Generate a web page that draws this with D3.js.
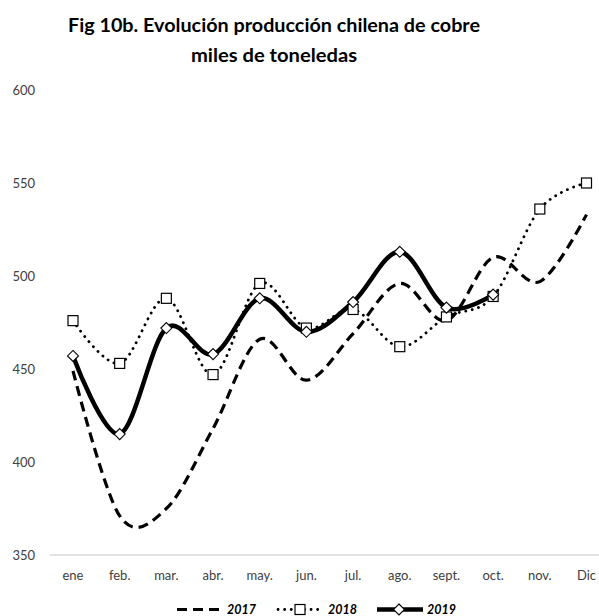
<!DOCTYPE html>
<html><head><meta charset="utf-8">
<script src="https://cdn.jsdelivr.net/npm/d3@7"></script>
<style>body{margin:0;background:#fff}svg{display:block}</style>
</head><body>
<script>
const months = ["ene","feb.","mar.","abr.","may.","jun.","jul.","ago.","sept.","oct.","nov.","Dic"];
const s2017 = [449, 371, 375, 418, 466, 444, 469, 496, 476, 510, 497, 533];
const s2018 = [476, 453, 488, 447, 496, 472, 482, 462, 478, 489, 536, 550];
const s2019 = [457, 415, 472, 458, 488, 470, 486, 513, 483, 490];
const yTicks = [350, 400, 450, 500, 550, 600];
const titleLines = ["Fig 10b. Evolución producción chilena de cobre", "miles de toneledas"];
const seriesNames = ["2017", "2018", "2019"];

const W = 599, H = 616;
const svg = d3.select("body").append("svg").attr("width", W).attr("height", H);
const x = d3.scalePoint().domain(months).range([73, 586.5]);
const y = d3.scaleLinear().domain([350, 600]).range([555, 90]);
const font = "Lato, 'Open Sans', sans-serif";

// title
svg.selectAll("text.title").data(titleLines).join("text")
  .attr("x", 274).attr("y", (d, i) => 32 + i * 30)
  .attr("text-anchor", "middle").attr("font-family", font).attr("font-weight", "bold")
  .attr("font-size", 19.5).attr("fill", "#000")
  .attr("textLength", (d, i) => i === 0 ? 412 : 166).attr("lengthAdjust", "spacingAndGlyphs")
  .text(d => d);

// baseline axis
svg.append("line").attr("x1", 50).attr("x2", 599).attr("y1", y(350)).attr("y2", y(350))
  .attr("stroke", "#d9d9d9").attr("stroke-width", 1.3);

// y labels
svg.selectAll("text.yl").data(yTicks).join("text")
  .attr("x", 35).attr("y", d => y(d) + 5).attr("text-anchor", "end")
  .attr("font-family", font).attr("font-size", 13).attr("fill", "#404040").text(d => d);

// x labels
svg.selectAll("text.xl").data(months).join("text")
  .attr("x", d => x(d)).attr("y", 580).attr("text-anchor", "middle")
  .attr("font-family", font).attr("font-size", 13).attr("fill", "#404040").text(d => d);

const curve = d3.curveCardinal.tension(0);
const line = d3.line().x((d, i) => x(months[i])).y(d => y(d)).curve(curve);

// 2017 dashed
svg.append("path").attr("d", line(s2017)).attr("fill", "none").attr("stroke", "#000")
  .attr("stroke-width", 3.2).attr("stroke-dasharray", "10,6");
// 2018 dotted
svg.append("path").attr("d", line(s2018)).attr("fill", "none").attr("stroke", "#000")
  .attr("stroke-width", 2.8).attr("stroke-linecap", "round").attr("stroke-dasharray", "0.1,6.5");
// 2019 solid
svg.append("path").attr("d", line(s2019)).attr("fill", "none").attr("stroke", "#000")
  .attr("stroke-width", 4.5);

// markers 2018 squares
svg.selectAll("rect.m18").data(s2018).join("rect")
  .attr("x", (d, i) => x(months[i]) - 5).attr("y", d => y(d) - 5)
  .attr("width", 10).attr("height", 10).attr("fill", "#fff").attr("stroke", "#000").attr("stroke-width", 1.2);
// markers 2019 diamonds
const diamond = (cx, cy, r) => `M${cx},${cy - r}L${cx + r},${cy}L${cx},${cy + r}L${cx - r},${cy}Z`;
svg.selectAll("path.m19").data(s2019).join("path")
  .attr("d", (d, i) => diamond(x(months[i]), y(d), 5.5))
  .attr("fill", "#fff").attr("stroke", "#000").attr("stroke-width", 1.1);

// legend
const ly = 609.5;
const lg = svg.append("g");
lg.append("line").attr("x1", 177).attr("x2", 222).attr("y1", ly).attr("y2", ly)
  .attr("stroke", "#000").attr("stroke-width", 3.2).attr("stroke-dasharray", "10,6");
lg.append("line").attr("x1", 278).attr("x2", 322).attr("y1", ly).attr("y2", ly)
  .attr("stroke", "#000").attr("stroke-width", 2.8).attr("stroke-linecap", "round").attr("stroke-dasharray", "0.1,6.5");
lg.append("rect").attr("x", 295).attr("y", ly - 5).attr("width", 10).attr("height", 10)
  .attr("fill", "#fff").attr("stroke", "#000").attr("stroke-width", 1.2);
lg.append("line").attr("x1", 377).attr("x2", 423).attr("y1", ly).attr("y2", ly)
  .attr("stroke", "#000").attr("stroke-width", 4.5);
lg.append("path").attr("d", diamond(399, ly, 5.5)).attr("fill", "#fff").attr("stroke", "#000").attr("stroke-width", 1.1);
const lx = [227, 328, 427];
lg.selectAll("text").data(seriesNames).join("text")
  .attr("x", (d, i) => lx[i]).attr("y", ly + 4.5).attr("font-family", font)
  .attr("font-weight", "bold").attr("font-style", "italic").attr("font-size", 12.5).attr("fill", "#000")
  .text(d => d);
</script>
</body></html>
